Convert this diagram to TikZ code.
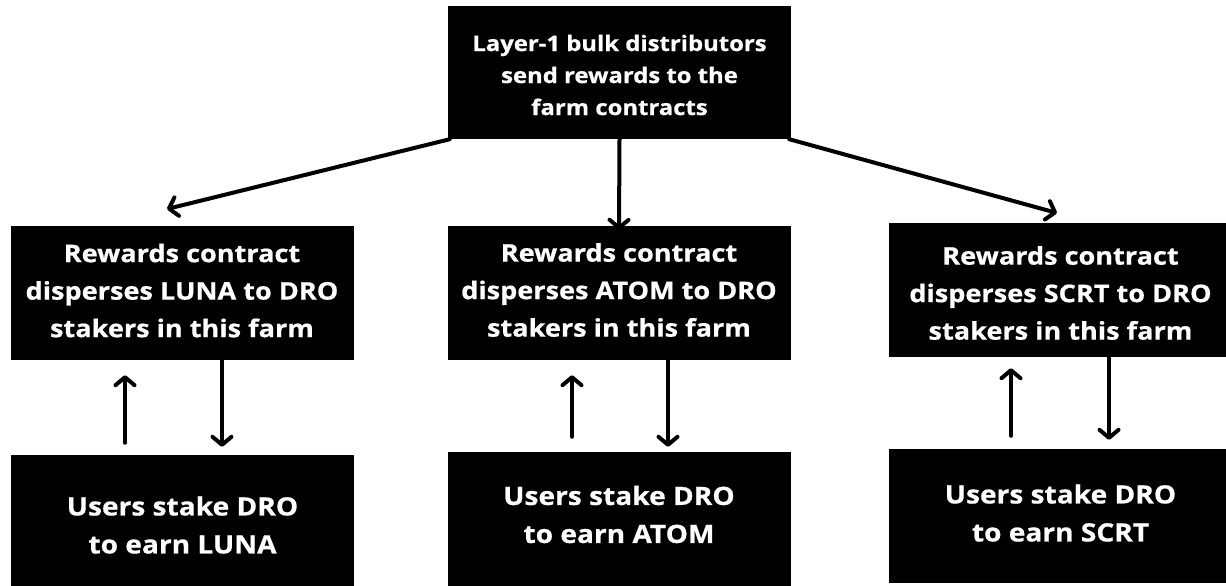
\documentclass[tikz,border=0pt]{standalone}
\usepackage{fontspec}
\setmainfont{Open Sans}
\newfontfamily\wfont[FakeStretch=1.115,FakeBold=0.7]{Open Sans}
\usetikzlibrary{arrows.meta}
\tikzset{
  box/.style={fill=black, draw=none, inner sep=0pt, minimum width=343pt},
  txt/.style={inner sep=0pt, text=white, align=center},
  midtxt/.style={txt, font=\wfont\fontsize{24.3pt}{37.5pt}\selectfont\bfseries},
  lowtxt/.style={txt, font=\wfont\fontsize{25.2pt}{38pt}\selectfont\bfseries},
  toptxt/.style={txt, font=\wfont\fontsize{21.4pt}{32pt}\selectfont\bfseries},
  arr/.style={line width=4pt, line cap=round, -{Straight Barb[length=8pt,width=19pt,round]}}
}
\begin{document}
\begin{tikzpicture}[x=1pt,y=-1pt]
\useasboundingbox[fill=white] (0,0) rectangle (1226,586);
% boxes
\node[box, minimum height=133pt] (top) at (619.5,72.5) {};
\node[box, minimum height=134pt] (L) at (182.5,293) {};
\node[box, minimum height=134pt] (M) at (619,293) {};
\node[box, minimum height=134pt] (R) at (1060.5,290) {};
\node[box, minimum height=134pt] (BL) at (182.5,522) {};
\node[box, minimum height=134pt] (BM) at (619,519) {};
\node[box, minimum height=134pt] (BR) at (1060.5,516) {};
% texts
\node[toptxt] (topt) at (619.5,75) {Layer-1 bulk distributors\\send rewards to the\\farm contracts};
\node[midtxt] (Lt) at (182,290.5) {Rewards contract\\disperses LUNA to DRO\\stakers in this farm};
\node[midtxt] (Mt) at (619,290) {Rewards contract\\disperses ATOM to DRO\\stakers in this farm};
\node[midtxt] (Rt) at (1060.5,293) {Rewards contract\\disperses SCRT to DRO\\stakers in this farm};
\node[lowtxt] (BLt) at (182.5,525) {Users stake DRO\\to earn LUNA};
\node[lowtxt] (BMt) at (619,514.5) {Users stake DRO\\to earn ATOM};
\node[lowtxt] (BRt) at (1060.5,513) {Users stake DRO\\to earn SCRT};
% top connectors
\coordinate (tipL) at (167,209);
\coordinate (tipR) at (1057,213);
\draw[arr] ([shift={(2pt,0)}]top.south west) -- (tipL);
\draw[arr] (top.south) -- ([yshift=-4pt]M.north);
\draw[arr] ([shift={(-2pt,0)}]top.south east) -- (tipR);
% left column
\draw[arr] ([shift={(-57.5,-12)}]BL.north) -- ([shift={(-57.5,15)}]L.south);
\draw[arr] ([xshift=39.5pt]L.south) -- ([shift={(39.5,-8)}]BL.north);
% middle column
\draw[arr] ([shift={(-47,-15)}]BM.north) -- ([shift={(-47,15)}]M.south);
\draw[arr] ([xshift=49pt]M.south) -- ([shift={(49,-5)}]BM.north);
% right column
\draw[arr] ([shift={(-49.5,-13)}]BR.north) -- ([shift={(-49.5,11)}]R.south);
\draw[arr] ([xshift=48.5pt]R.south) -- ([shift={(48.5,-9)}]BR.north);
\end{tikzpicture}
\end{document}
